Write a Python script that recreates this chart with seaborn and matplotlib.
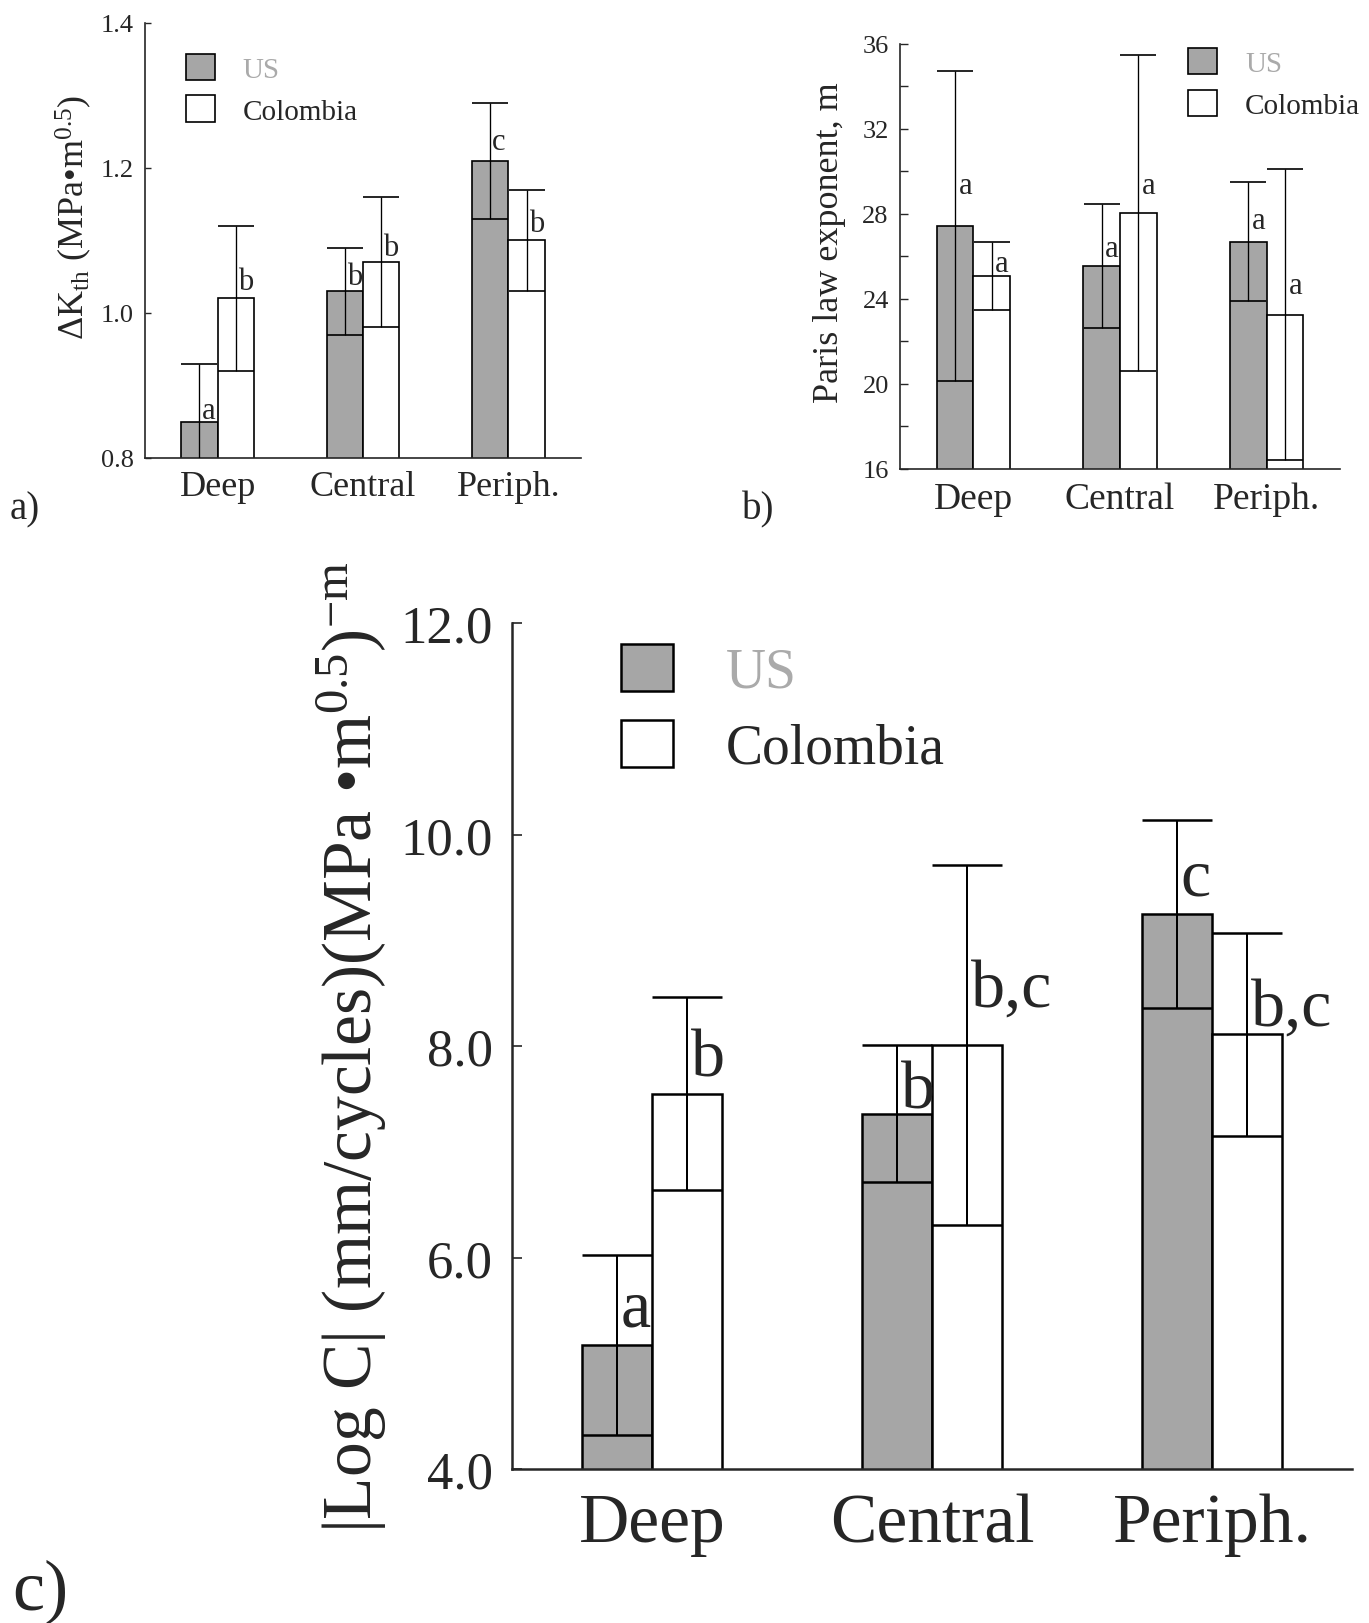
import numpy as np
import pandas as pd
import matplotlib
matplotlib.use("Agg")
import matplotlib.pyplot as plt
from matplotlib.patches import Patch
import seaborn as sns

zones = ["Deep", "Central", "Periph."]
origins = ["US", "Colombia"]

# a) threshold stress intensity range
dk_us = [0.85, 1.03, 1.21]
dk_col = [1.02, 1.07, 1.10]
dk_us_err = [0.08, 0.06, 0.08]
dk_col_err = [0.10, 0.09, 0.07]
dk_us_lab = ["a", "b", "c"]
dk_col_lab = ["b", "b", "b"]
dk_us_lab_y = [0.855, 1.04, 1.226]
dk_col_lab_y = [1.033, 1.08, 1.113]

# b) Paris law exponent
m_us = [27.45, 25.55, 26.7]
m_col = [25.1, 28.05, 23.25]
m_us_err = [7.3, 2.9, 2.8]
m_col_err = [1.6, 7.45, 6.85]
m_us_lab = ["a", "a", "a"]
m_col_lab = ["a", "a", "a"]
m_us_lab_y = [29.0, 26.0, 27.35]
m_col_lab_y = [25.3, 29.0, 24.3]

# c) |log C|
c_us = [5.17, 7.36, 9.25]
c_col = [7.55, 8.01, 8.11]
c_us_err = [0.85, 0.65, 0.89]
c_col_err = [0.91, 1.70, 0.96]
c_us_lab = ["a", "b", "c"]
c_col_lab = ["b", "b,c", "b,c"]
c_us_lab_y = [5.36, 7.42, 9.43]
c_col_lab_y = [7.72, 8.38, 8.2]

GRAY = "#a6a6a6"

sns.set_style("ticks")
plt.rcParams["font.family"] = ["Liberation Serif", "DejaVu Serif"]
plt.rcParams["mathtext.fontset"] = "custom"
plt.rcParams["mathtext.rm"] = "Liberation Serif"
plt.rcParams["mathtext.it"] = "Liberation Serif"


def bar_panel(ax, us, col, us_err, col_err, us_lab, col_lab, us_lab_y, col_lab_y,
              lw, cap, lab_fs, lab_dx):
    df = pd.DataFrame({"zone": zones * 2,
                       "origin": ["US"] * 3 + ["Colombia"] * 3,
                       "val": us + col})
    sns.barplot(data=df, x="zone", y="val", hue="origin", order=zones,
                hue_order=origins, palette=[GRAY, "white"], width=0.5,
                errorbar=None, edgecolor="black", linewidth=lw, saturation=1,
                legend=False, ax=ax)
    for cont, err, labs, laby in zip(ax.containers, [us_err, col_err],
                                     [us_lab, col_lab], [us_lab_y, col_lab_y]):
        xs = [b.get_x() + b.get_width() / 2 for b in cont]
        ys = [b.get_height() for b in cont]
        ax.errorbar(xs, ys, yerr=err, fmt="none", ecolor="black",
                    elinewidth=lw * 0.8, capsize=cap, capthick=lw, zorder=5)
        for x, t, y in zip(xs, labs, laby):
            ax.annotate(t, (x, y), xytext=(lab_dx, 0), textcoords="offset points",
                        ha="left", va="baseline", fontsize=lab_fs)
    sns.despine(ax=ax)
    ax.set_xlabel("")
    ax.set_xlim(-0.5, 2.5)
    for s in ax.spines.values():
        s.set_linewidth(lw)


def legend(ax, anchor, fs, lw, hl, ls, tp):
    handles = [Patch(facecolor=GRAY, edgecolor="black", linewidth=lw),
               Patch(facecolor="white", edgecolor="black", linewidth=lw)]
    leg = ax.legend(handles, origins, loc="upper left", bbox_to_anchor=anchor,
                    frameon=False, fontsize=fs, handlelength=hl, handleheight=hl,
                    labelspacing=ls, handletextpad=tp, borderpad=0, borderaxespad=0)
    leg.get_texts()[0].set_color("#aaaaaa")


fig = plt.figure(figsize=(13.69, 16.24), dpi=100)

# panel a
ax1 = fig.add_axes([0.1059, 0.7174, 0.3185, 0.2679])
bar_panel(ax1, dk_us, dk_col, dk_us_err, dk_col_err, dk_us_lab, dk_col_lab,
          dk_us_lab_y, dk_col_lab_y, lw=1.2, cap=13, lab_fs=22, lab_dx=1.5)
ax1.set_ylim(0.8, 1.4)
ax1.set_yticks([0.8, 1.0, 1.2, 1.4])
ax1.set_yticklabels(["0.8", "1.0", "1.2", "1.4"])
ax1.tick_params(axis="y", direction="in", length=4, width=1, pad=8, labelsize=19)
ax1.tick_params(axis="x", length=0, pad=9, labelsize=26)
ax1.set_ylabel("ΔK$_{\\rm th}$ (MPa•m$^{0.5}$)", fontsize=26, labelpad=5)
ax1.yaxis.label.set_y(0.555)
legend(ax1, (0.094, 0.928), 21, 1.2, 1.0, 0.42, 0.95)

# panel b
ax2 = fig.add_axes([0.6574, 0.7106, 0.3214, 0.2617])
bar_panel(ax2, m_us, m_col, m_us_err, m_col_err, m_us_lab, m_col_lab,
          m_us_lab_y, m_col_lab_y, lw=1.2, cap=13.3, lab_fs=22, lab_dx=2.5)
ax2.set_ylim(16, 36)
ax2.set_yticks(np.arange(16, 37, 4))
ax2.set_yticks(np.arange(18, 36, 4), minor=True)
ax2.tick_params(axis="y", which="both", direction="in", length=6, width=1,
                pad=8, labelsize=19)
ax2.tick_params(axis="x", length=0, pad=9, labelsize=27)
ax2.set_ylabel("Paris law exponent, m", fontsize=26, labelpad=12)
ax2.yaxis.label.set_y(0.536)
legend(ax2, (0.655, 0.99), 21, 1.2, 1.0, 0.42, 0.95)

# panel c
ax3 = fig.add_axes([0.374, 0.0948, 0.6136, 0.5209])
bar_panel(ax3, c_us, c_col, c_us_err, c_col_err, c_us_lab, c_col_lab,
          c_us_lab_y, c_col_lab_y, lw=1.8, cap=25, lab_fs=49, lab_dx=2.5)
ax3.set_ylim(4, 12)
ax3.set_yticks([4, 6, 8, 10, 12])
ax3.set_yticklabels(["4.0", "6.0", "8.0", "10.0", "12.0"])
ax3.tick_params(axis="y", direction="in", length=7, width=1.2, pad=14, labelsize=38)
ax3.tick_params(axis="x", length=0, pad=17, labelsize=50)
ax3.set_ylabel("|Log C| (mm/cycles)(MPa •m$^{0.5}$)$^{-\\rm m}$", fontsize=50,
               labelpad=8)
legend(ax3, (0.130, 0.975), 40, 1.8, 0.93, 0.38, 0.95)

fig.text(0.0073, 0.686, "a)", fontsize=28, ha="left", va="center")
fig.text(0.542, 0.686, "b)", fontsize=28, ha="left", va="center")
fig.text(0.0088, 0.0197, "c)", fontsize=52, ha="left", va="center")

fig.savefig("out.png", dpi=100)
